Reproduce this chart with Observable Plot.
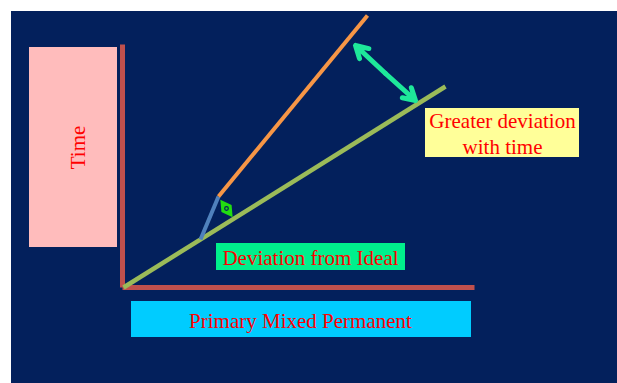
<!DOCTYPE html>
<html>
<head>
<meta charset="utf-8">
<script src="https://cdn.jsdelivr.net/npm/d3@7"></script>
<script src="https://cdn.jsdelivr.net/npm/@observablehq/plot@0.6"></script>
<style>
  html, body { margin: 0; padding: 0; background: #ffffff; }
  #chart svg { display: block; }
</style>
</head>
<body>
<div id="chart"></div>
<script>
// Diagram data (diagram units; y grows downward)
const panel = [{x1: 11, x2: 617, y1: 11, y2: 383}];
const boxes = [
  {name: "time",      x1: 29,  x2: 117, y1: 47,  y2: 247, fill: "#ffbcbc"},
  {name: "greater",   x1: 425, x2: 579, y1: 108, y2: 157, fill: "#ffff99"},
  {name: "deviation", x1: 216, x2: 405, y1: 243, y2: 270, fill: "#00f08c"},
  {name: "primary",   x1: 131, x2: 471, y1: 301, y2: 337, fill: "#00ccff"}
];
const axes = [
  {x1: 122, y1: 44,  x2: 122, y2: 287},
  {x1: 122, y1: 287, x2: 474, y2: 287}
];
const idealLine = [{x1: 123, y1: 287, x2: 445, y2: 86}];
const deviationStart = [{x1: 200, y1: 239, x2: 218, y2: 196}];
const deviationLine = [{x1: 218, y1: 196, x2: 367, y2: 15}];
const arrowMid = {x: 385, y: 73};
const arrowEnds = [{x: 355, y: 45}, {x: 415, y: 100}];
const angleMark = [{x: 226, y: 208}];
const labels = [
  {text: "Time", x: 84, y: 147, rotate: -90},
  {text: "Greater deviation", x: 502, y: 127, rotate: 0},
  {text: "with time", x: 502, y: 153, rotate: 0},
  {text: "Deviation from Ideal", x: 310, y: 264, rotate: 0},
  {text: "Primary Mixed Permanent", x: 300, y: 327, rotate: 0}
];

const font = "'Liberation Serif', 'Times New Roman', serif";

const chart = Plot.plot({
  width: 617,
  height: 383,
  margin: 0,
  x: {domain: [0, 617], axis: null},
  y: {domain: [383, 0], axis: null},
  style: {background: "transparent"},
  marks: [
    Plot.rect(panel, {x1: "x1", x2: "x2", y1: "y1", y2: "y2", fill: "#03205c"}),
    Plot.rect(boxes, {x1: "x1", x2: "x2", y1: "y1", y2: "y2", fill: d => d.fill}),
    Plot.link(axes, {x1: "x1", y1: "y1", x2: "x2", y2: "y2", stroke: "#c0504d", strokeWidth: 5}),
    Plot.link(idealLine, {x1: "x1", y1: "y1", x2: "x2", y2: "y2", stroke: "#9bbb59", strokeWidth: 4.5, strokeLinecap: "butt"}),
    Plot.link(deviationStart, {x1: "x1", y1: "y1", x2: "x2", y2: "y2", stroke: "#4f81bd", strokeWidth: 4}),
    Plot.link(deviationLine, {x1: "x1", y1: "y1", x2: "x2", y2: "y2", stroke: "#f79646", strokeWidth: 4}),
    Plot.dot(angleMark, {x: "x", y: "y", symbol: "diamond", r: 6.5, fill: "#22dd11", rotate: -35}),
    Plot.dot(angleMark, {x: "x", y: "y", r: 1.8, fill: "none", stroke: "#03205c", strokeWidth: 1.2}),
    Plot.arrow(arrowEnds, {x1: () => arrowMid.x, y1: () => arrowMid.y, x2: "x", y2: "y",
      stroke: "#1ee89a", strokeWidth: 5, headLength: 18, bend: 0, inset: 0}),
    Plot.text(labels, {x: "x", y: "y", text: "text", rotate: "rotate", fill: "#ff0000",
      fontSize: 21, fontFamily: font, lineAnchor: "bottom", textAnchor: "middle"})
  ]
});
document.getElementById("chart").appendChild(chart);
</script>
</body>
</html>
